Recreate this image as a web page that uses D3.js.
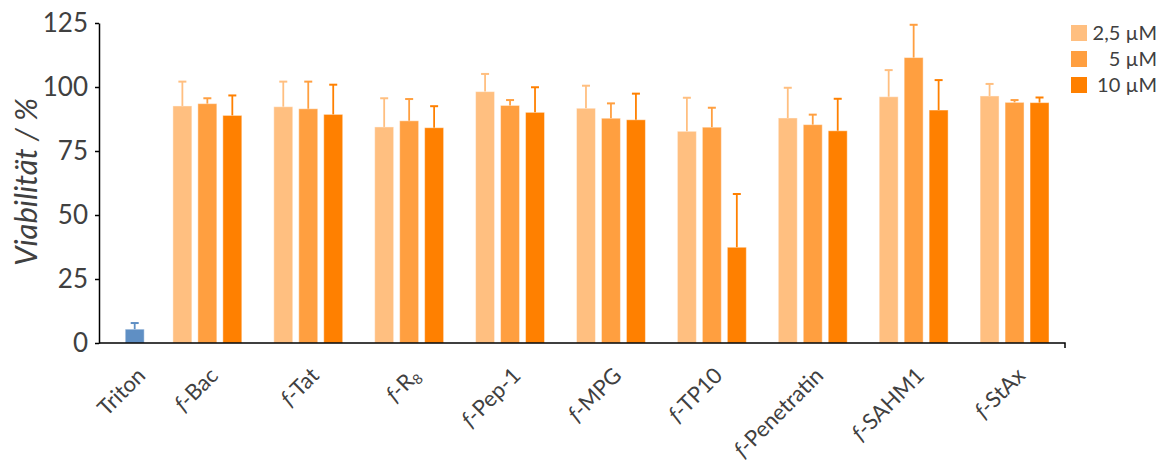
<!DOCTYPE html>
<html>
<head>
<meta charset="utf-8">
<script src="https://cdn.jsdelivr.net/npm/d3@7"></script>
<style>
	body { margin: 0; background: #fff; }
	text { font-family: Lato, 'Open Sans', sans-serif; fill: #404040; }
</style>
</head>
<body>
<div id="chart"></div>
<script>
// categories and series
const PEPTIDES = ['Bac', 'Tat', 'R8', 'Pep-1', 'MPG', 'TP10', 'Penetratin', 'SAHM1', 'StAx']
const CONCENTRATIONS = ['2,5 µM', '5 µM', '10 µM']

const VALUES_2_5 = [92.6, 92.3, 84.4, 98.2, 91.7, 82.7, 87.9, 96.2, 96.5]
const VALUES_5 = [93.5, 91.5, 86.8, 92.8, 87.8, 84.3, 85.3, 111.5, 94.0]
const VALUES_10 = [88.9, 89.3, 84.1, 90.1, 87.2, 37.4, 82.9, 91.0, 93.9]

const ERR_2_5 = [9.5, 9.8, 11.2, 6.9, 8.8, 13.1, 11.8, 10.4, 4.7]
const ERR_5 = [2.1, 10.6, 8.5, 2.1, 5.8, 7.6, 3.9, 12.8, 0.9]
const ERR_10 = [7.8, 11.6, 8.4, 9.8, 10.2, 20.8, 12.5, 11.7, 2.0]

const TRITON_VALUE = 5.4
const TRITON_ERR = 2.4

const Y_TICKS = [0, 25, 50, 75, 100, 125]

const COLORS = ['#FFBF80', '#FF9F40', '#FF8000']
const TRITON_COLOR = '#5F8FC4'

const WIDTH = 1165
const HEIGHT = 467
const AXIS_LEFT = 99
const AXIS_RIGHT = 1065
const PLOT_TOP = 23
const PLOT_BOTTOM = 343
const CAP = 4 // half width of error bar cap
const TRITON_POS = 0.78 // triton bar sits right of its band centre

const series = [VALUES_2_5, VALUES_5, VALUES_10]
const errors = [ERR_2_5, ERR_5, ERR_10]

const bars = []
PEPTIDES.forEach((p, i) => {
	CONCENTRATIONS.forEach((c, j) => {
		bars.push({ cat: p, conc: c, value: series[j][i], err: errors[j][i], color: COLORS[j] })
	})
})

const svg = d3.select('#chart').append('svg').attr('width', WIDTH).attr('height', HEIGHT)

const categories = ['Triton', ...PEPTIDES]

const x = d3
	.scaleBand()
	.domain(categories)
	.range([AXIS_RIGHT - categories.length * 100.9, AXIS_RIGHT])

const xSub = d3
	.scaleBand()
	.domain(CONCENTRATIONS)
	.range([0, x.bandwidth()])
	.paddingInner(0.24)
	.paddingOuter(0.64)

const y = d3.scaleLinear().domain([0, 125]).range([PLOT_BOTTOM, PLOT_TOP])

const catCenter = d =>
	d === 'Triton' ? x(d) + x.bandwidth() * TRITON_POS : x(d) + x.bandwidth() / 2

// bars ---------------------------
const content = svg.append('g').attr('id', 'content')

content
	.selectAll('rect.bar')
	.data(bars)
	.join('rect')
	.attr('class', 'bar')
	.attr('x', d => x(d.cat) + xSub(d.conc))
	.attr('y', d => y(d.value))
	.attr('width', xSub.bandwidth())
	.attr('height', d => y(0) - y(d.value))
	.attr('fill', d => d.color)
	.attr('stroke', '#fff')
	.attr('stroke-opacity', 0.45)

const triton = { cat: 'Triton', value: TRITON_VALUE, err: TRITON_ERR, color: TRITON_COLOR }

content
	.append('rect')
	.datum(triton)
	.attr('x', d => catCenter(d.cat) - xSub.bandwidth() / 2)
	.attr('y', d => y(d.value))
	.attr('width', xSub.bandwidth())
	.attr('height', d => y(0) - y(d.value))
	.attr('fill', d => d.color)
	.attr('stroke', '#fff')
	.attr('stroke-opacity', 0.45)

// error bars (upper only)
const errData = bars
	.map(d => ({ ...d, cx: x(d.cat) + xSub(d.conc) + xSub.bandwidth() / 2 }))
	.concat([{ ...triton, cx: catCenter('Triton') }])

const eg = content.append('g').attr('id', 'errors')

eg.selectAll('line.err')
	.data(errData)
	.join('line')
	.attr('class', 'err')
	.attr('x1', d => d.cx)
	.attr('x2', d => d.cx)
	.attr('y1', d => y(d.value))
	.attr('y2', d => y(d.value + d.err))
	.attr('stroke', d => d.color)
	.attr('stroke-width', 1.8)

eg.selectAll('line.cap')
	.data(errData)
	.join('line')
	.attr('class', 'cap')
	.attr('x1', d => d.cx - CAP)
	.attr('x2', d => d.cx + CAP)
	.attr('y1', d => y(d.value + d.err))
	.attr('y2', d => y(d.value + d.err))
	.attr('stroke', d => d.color)
	.attr('stroke-width', 2)

// y axis ---------------------------
const yaxis = svg
	.append('g')
	.attr('id', 'y-axis')
	.attr('transform', `translate(${AXIS_LEFT},0)`)
	.call(d3.axisLeft(y).tickValues(Y_TICKS).tickSize(4).tickPadding(7).tickSizeOuter(0))

yaxis.select('.domain').attr('stroke', '#000').attr('stroke-width', 1.5)
yaxis.selectAll('.tick line').attr('stroke', '#000').attr('stroke-width', 1.5)
yaxis.selectAll('.tick text').attr('font-size', 26).attr('fill', '#404040').attr('font-family', 'Lato')

svg
	.append('text')
	.attr('transform', `translate(37,182) rotate(-90)`)
	.attr('text-anchor', 'middle')
	.attr('font-size', 31)
	.attr('font-style', 'italic')
	.text('Viabilität / %')

// x axis ---------------------------
const xaxis = svg.append('g').attr('id', 'x-axis').attr('transform', `translate(0,${PLOT_BOTTOM})`)

xaxis
	.append('path')
	.attr('d', `M${AXIS_LEFT},0H${AXIS_RIGHT}V5`)
	.attr('fill', 'none')
	.attr('stroke', '#000')
	.attr('stroke-width', 1.5)

const labels = xaxis
	.selectAll('text')
	.data(categories)
	.join('text')
	.attr('transform', d => `translate(${catCenter(d) + 12},34) rotate(-45)`)
	.attr('text-anchor', 'end')
	.attr('font-size', 22)

labels.each(function (d) {
	const t = d3.select(this)
	if (d === 'Triton') {
		t.text(d)
		return
	}
	t.append('tspan').attr('font-style', 'italic').text('f')
	if (d === 'R8') {
		t.append('tspan').text('-R')
		t.append('tspan').attr('font-size', 14).attr('dy', 4).text('8')
	} else {
		t.append('tspan').text('-' + d)
	}
})

// legend ---------------------------
const legend = svg
	.append('g')
	.attr('id', 'legend')
	.selectAll('g')
	.data(CONCENTRATIONS)
	.join('g')
	.attr('transform', (d, i) => `translate(1071,${25 + i * 26})`)

legend
	.append('rect')
	.attr('width', 16)
	.attr('height', 16)
	.attr('fill', (d, i) => COLORS[i])

legend
	.append('text')
	.attr('x', 86)
	.attr('y', 15)
	.attr('text-anchor', 'end')
	.attr('font-size', 20)
	.text(d => d)
</script>
</body>
</html>
